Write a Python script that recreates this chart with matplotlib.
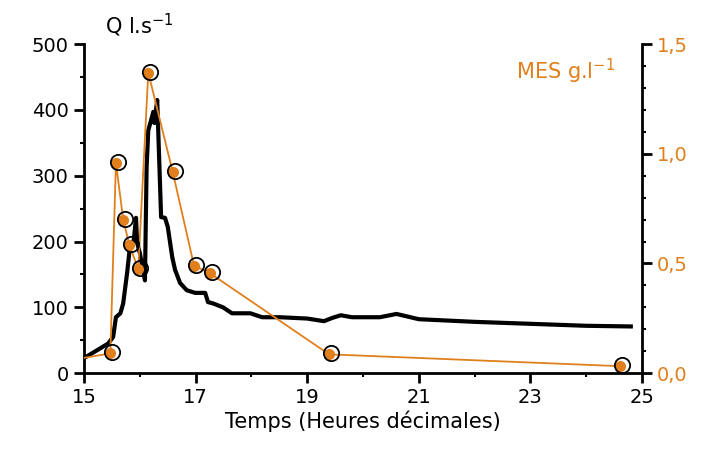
import numpy as np
import matplotlib
matplotlib.use('Agg')
import matplotlib.pyplot as plt
from matplotlib.ticker import MultipleLocator, FixedLocator
from matplotlib.transforms import ScaledTranslation

plt.rcParams['font.family'] = ['DejaVu Sans']

# debit Q (l/s)
t_q = [15.0, 15.43, 15.52, 15.57, 15.65, 15.70, 15.77, 15.82, 15.89, 15.93, 15.95, 16.0,
       16.09, 16.12, 16.15, 16.2, 16.24, 16.26, 16.31, 16.38, 16.45, 16.5, 16.58, 16.63,
       16.72, 16.84, 16.99, 17.17, 17.22, 17.31, 17.49, 17.65, 17.98, 18.19, 18.51, 19.0,
       19.3, 19.45, 19.6, 19.8, 20.3, 20.6, 20.8, 21.0, 21.5, 22.0, 23.0, 24.0, 24.8]
q = [23, 45, 55, 85, 91, 106, 152, 191, 202, 236, 198, 182,
     141, 313, 369, 384, 397, 380, 415, 237, 236, 222, 176, 157,
     137, 126, 122, 122, 108, 106, 100, 91, 91, 85, 85, 83,
     79, 84, 88, 85, 85, 90, 86, 82, 80, 78, 75, 72, 71]

# MES (g/l)
t_mes = [15.0, 15.47, 15.57, 15.70, 15.81, 15.97, 16.15, 16.59, 16.97, 17.26, 19.39, 24.6]
mes = [0.07, 0.09, 0.96, 0.70, 0.585, 0.475, 1.37, 0.915, 0.49, 0.455, 0.086, 0.032]

orange = '#e07f1c'
fs = 14

fig = plt.figure(figsize=(7.07, 4.54), dpi=100)
ax = fig.add_axes([0.119, 0.178, 0.789, 0.725])
ax2 = ax.twinx()

ax.plot(t_q, q, color='black', lw=3, zorder=3, solid_joinstyle='round')
ax.set_xlim(15, 25)
ax.set_ylim(0, 500)

ax2.plot(t_mes, mes, color=orange, lw=1.3, zorder=2)
ax2.plot(t_mes[1:], mes[1:], 'o', color=orange, ms=8, mec='none', zorder=4)
off = ScaledTranslation(2/100, 1/100, fig.dpi_scale_trans)
ax2.plot(t_mes[1:], mes[1:], 'o', mfc='none', mec='black', ms=11, mew=1.3,
         transform=ax2.transData + off, zorder=5)
ax2.set_ylim(0, 1.49)

for a in (ax, ax2):
    a.spines['top'].set_visible(False)
    a.patch.set_visible(False)
ax.spines['right'].set_visible(False)
ax2.spines['left'].set_visible(False)
ax2.spines['bottom'].set_visible(False)
for s in ['left', 'bottom']:
    ax.spines[s].set_linewidth(2)
ax2.spines['right'].set_linewidth(2)
ax2.spines['right'].set_bounds(0, 1.5)

ax.set_xticks([15, 17, 19, 21, 23, 25])
ax.xaxis.set_minor_locator(FixedLocator([16, 18, 20, 22, 24]))
ax.yaxis.set_major_locator(MultipleLocator(100))
ax.yaxis.set_minor_locator(MultipleLocator(50))
ax.tick_params(axis='both', which='major', direction='out', length=7, width=2,
               labelsize=fs, pad=4)
ax.tick_params(axis='both', which='minor', direction='out', length=3, width=1.5)

ax2.set_yticks([0.0, 0.5, 1.0, 1.5])
ax2.set_yticklabels(['0,0', '0,5', '1,0', '1,5'])
ax2.yaxis.set_minor_locator(MultipleLocator(0.1))
ax2.tick_params(axis='y', which='major', direction='out', length=7, width=2,
                labelsize=fs, labelcolor=orange, pad=4)
ax2.tick_params(axis='y', which='minor', direction='out', length=3, width=1.5)

ax.set_xlabel('Temps (Heures décimales)', fontsize=fs + 1, labelpad=2)
fig.text(0.148, 0.915, 'Q l.s$^{-1}$', fontsize=fs + 1, ha='left', va='bottom')
fig.text(0.87, 0.81, 'MES g.l$^{-1}$', fontsize=fs + 1, color=orange, ha='right', va='bottom')

fig.savefig('out.png', dpi=100)
